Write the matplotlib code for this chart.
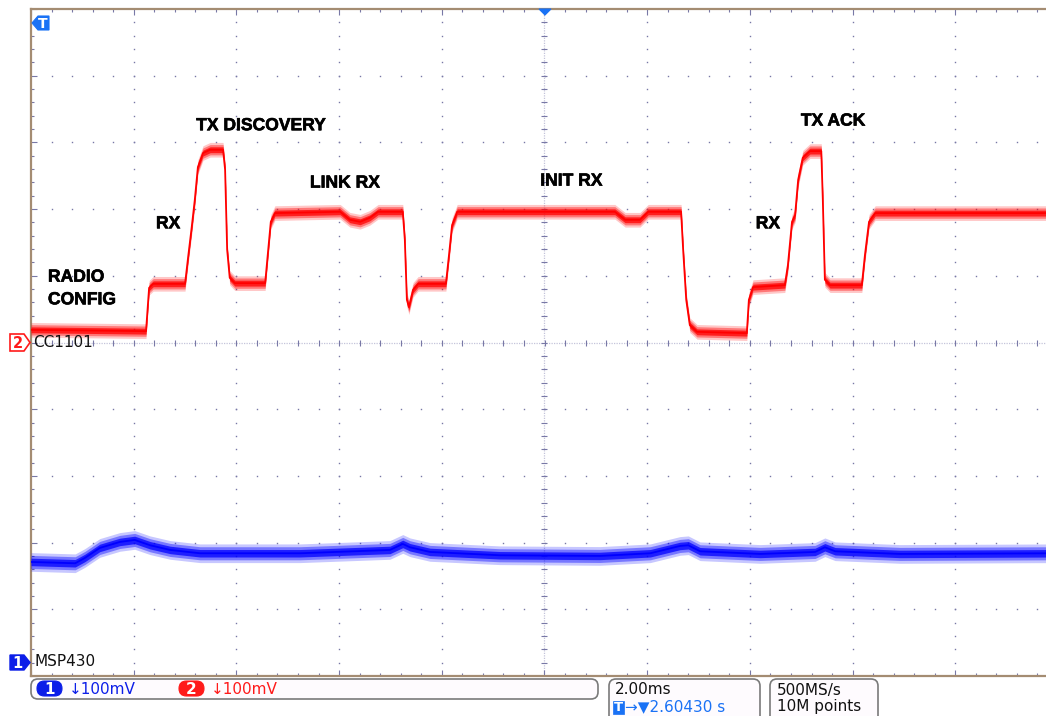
import numpy as np
import matplotlib
matplotlib.use("Agg")
import matplotlib.pyplot as plt
import matplotlib.patheffects as pe
from matplotlib.patches import Polygon, FancyBboxPatch

# ---- Channel 2: CC1101 supply (time in ms from trigger, level in mV) ----
cc1101_t_ms = [-10.0, -7.76, -7.70, -7.62, -7.00, -6.94, -6.87, -6.81, -6.75, -6.65,
               -6.51, -6.26, -6.22, -6.18, -6.13, -6.03, -5.44, -5.39, -5.33, -5.25,
               -3.98, -3.79, -3.59, -3.40, -3.24, -2.76, -2.72, -2.68, -2.64, -2.56,
               -2.46, -1.92, -1.86, -1.80, -1.70, 1.37, 1.57, 1.86, 2.02, 2.66,
               2.70, 2.76, 2.83, 2.97, 3.94, 3.98, 4.06, 4.68, 4.74, 4.82,
               4.88, 4.94, 5.03, 5.17, 5.39, 5.42, 5.46, 5.56, 6.18, 6.24,
               6.32, 6.44, 10.0]
cc1101_mv = [19, 17, 82, 88, 88, 128, 173, 214, 263, 284,
             289, 289, 259, 139, 97, 89, 89, 131, 181, 194,
             196, 184, 181, 187, 196, 196, 154, 64, 53, 79,
             88, 88, 131, 176, 196, 196, 184, 184, 196, 196,
             139, 64, 26, 16, 14, 64, 83, 86, 116, 181,
             191, 244, 277, 287, 287, 214, 94, 86, 86, 131,
             181, 194, 194]

# ---- Channel 1: MSP430 supply ----
msp430_t_ms = [-10.0, -9.14, -8.95, -8.66, -8.27, -7.98, -7.68, -7.29, -6.71, -4.76,
               -3.01, -2.76, -2.62, -2.23, -0.87, 1.08, 2.06, 2.64, 2.80, 3.03,
               4.20, 5.27, 5.46, 5.66, 6.92, 10.0]
msp430_mv = [150, 148, 156, 171, 180, 183, 175, 168, 163, 163,
             168, 177, 172, 165, 160, 159, 163, 174, 175, 166,
             162, 165, 172, 166, 162, 163]

# ---- Phase annotations (time in ms, vertical position in divisions) ----
phase_text = ["RADIO", "CONFIG", "RX", "TX DISCOVERY", "LINK RX", "INIT RX", "RX", "TX ACK"]
phase_t_ms = [-9.67, -9.67, -7.33, -5.52, -3.89, 0.52, 4.35, 5.62]
phase_div = [5.98, 5.64, 6.78, 8.25, 7.39, 7.42, 6.78, 8.32]
phase_ha = ["left", "left", "center", "center", "center", "center", "center", "center"]

# ---- Scope settings ----
MS_PER_DIV = 2.0
MV_PER_DIV = 100.0
CH2_OFFSET_DIV = 5.0
CH1_OFFSET_DIV = 0.21

W, H = 1046, 716
fig = plt.figure(figsize=(W / 100, H / 100), dpi=100, facecolor="white")

# screen area spans 10 x 10 divisions; right edge falls just past the window
L, T, R, B = 31, 9, 1058, 676
ax = fig.add_axes([L / W, (H - B) / H, (R - L) / W, (B - T) / H])
ax.set_xlim(-5 * MS_PER_DIV, 5 * MS_PER_DIV)
ax.set_ylim(0, 10)
ax.set_facecolor("white")

grid_col = "#7878a6"
spine_col = "#a48c72"

# dotted graticule
for xm in np.arange(-8, 9, 2):
    if xm == 0:
        continue
    ys = np.arange(0.2, 10, 0.2)
    ax.plot(np.full_like(ys, xm), ys, ls="none", marker="s", ms=1.0,
            mew=0, color=grid_col, zorder=1)
for ym in range(1, 10):
    if ym == 5:
        continue
    xs = np.arange(-9.6, 9.7, 0.4)
    ax.plot(xs, np.full_like(xs, ym), ls="none", marker="s", ms=1.0,
            mew=0, color=grid_col, zorder=1)

# centre cross with sub-division ticks
ax.axvline(0, color="#c4c4da", lw=0.9, ls=(0, (1, 1)), zorder=1)
ax.axhline(5, color="#c4c4da", lw=0.9, ls=(0, (1, 1)), zorder=1)
yc = np.arange(0.2, 10, 0.2)
ax.plot(np.zeros_like(yc), yc, ls="none", marker="_", ms=5, mew=0.8,
        color=grid_col, zorder=1)
xc = np.arange(-9.6, 9.7, 0.4)
ax.plot(xc, np.full_like(xc, 5.0), ls="none", marker="|", ms=5, mew=0.8,
        color=grid_col, zorder=1)

# border ticks
ax.set_xticks(np.arange(-10, 11, 2))
ax.set_xticks(np.arange(-10, 10.01, 0.4), minor=True)
ax.set_yticks(np.arange(0, 11, 1))
ax.set_yticks(np.arange(0, 10.01, 0.2), minor=True)
ax.tick_params(which="both", direction="in", top=True, bottom=True, left=True,
               right=False, labelbottom=False, labelleft=False, color=grid_col,
               width=0.8)
ax.tick_params(which="major", length=4)
ax.tick_params(which="minor", length=2.5)
for side in ("left", "top", "bottom"):
    ax.spines[side].set_color(spine_col)
    ax.spines[side].set_linewidth(1.6)
ax.spines["right"].set_visible(False)


def draw_trace(t_ms, mv, offset_div, color, spread, core_lw):
    t = np.asarray(t_ms, dtype=float)
    y = offset_div + np.asarray(mv, dtype=float) / MV_PER_DIV
    for w, a in ((spread, 0.22), (spread * 0.7, 0.4), (spread * 0.4, 0.75)):
        ax.fill_between(t, y - w, y + w, color=color, alpha=a, lw=0, zorder=3)
    ax.plot(t, y, color=color, lw=core_lw, zorder=4)


draw_trace(cc1101_t_ms, cc1101_mv, CH2_OFFSET_DIV, "#ff0000", 0.11, 1.3)
draw_trace(msp430_t_ms, msp430_mv, CH1_OFFSET_DIV, "#0000ff", 0.14, 1.3)

for txt, tx, ty, ha in zip(phase_text, phase_t_ms, phase_div, phase_ha):
    ax.text(tx, ty, txt, ha=ha, va="center", fontsize=12.6, fontweight="bold",
            family="Liberation Sans", color="black", zorder=6,
            path_effects=[pe.withStroke(linewidth=0.45, foreground="black")])

# ---- screen decorations in pixel coordinates ----
ov = fig.add_axes([0, 0, 1, 1], zorder=5)
ov.set_xlim(0, W)
ov.set_ylim(H, 0)
ov.axis("off")
ov.patch.set_alpha(0)

ch1_col = "#0c1ee8"
ch2_col = "#ff1a1a"
trig_col = "#1a72f5"
txt_font = "DejaVu Sans"

# channel 2 ground marker
ov.add_patch(Polygon([(10, 334), (24, 334), (30, 342.5), (24, 351), (10, 351)],
                     closed=True, fc="white", ec=ch2_col, lw=1.2))
ov.text(17.5, 343, "2", color=ch2_col, fontsize=10.5, ha="center", va="center",
        family=txt_font, fontweight="bold")
ov.text(33, 342.5, "CC1101", color="#111111", fontsize=11, ha="left", va="center",
        family=txt_font)

# channel 1 ground marker
ov.add_patch(Polygon([(10, 655), (24, 655), (30, 662.5), (24, 670), (10, 670)],
                     closed=True, fc=ch1_col, ec=ch1_col, lw=1.0))
ov.text(17.5, 663, "1", color="white", fontsize=10.5, ha="center", va="center",
        family=txt_font, fontweight="bold")
ov.text(34, 662, "MSP430", color="#111111", fontsize=11, ha="left", va="center",
        family=txt_font)

# trigger level flag and trigger position marker
ov.add_patch(Polygon([(32, 23), (38, 16), (49, 16), (49, 30), (38, 30)],
                     closed=True, fc=trig_col, ec=trig_col, lw=0.8))
ov.text(43, 23.5, "T", color="white", fontsize=10, ha="center", va="center",
        family=txt_font, fontweight="bold")
ov.add_patch(Polygon([(539, 9), (551, 9), (545, 15)], closed=True,
                     fc=trig_col, ec=trig_col, lw=0.8))

# status bar
box_kw = dict(boxstyle="round,pad=0,rounding_size=7", ec="#7a7a7a",
              fc="#fefbfe", lw=1.2)
ov.add_patch(FancyBboxPatch((31, 679), 567, 20, **box_kw))
ov.add_patch(FancyBboxPatch((609, 679), 151, 45, **box_kw))
ov.add_patch(FancyBboxPatch((770, 679), 108, 45, **box_kw))

ov.add_patch(FancyBboxPatch((37, 681), 25, 15, boxstyle="round,pad=0,rounding_size=7.5",
                            fc=ch1_col, ec=ch1_col, lw=0.8))
ov.text(49.5, 689, "1", color="white", fontsize=11, ha="center", va="center",
        family=txt_font, fontweight="bold")
ov.text(69, 689.5, "↓100mV", color=ch1_col, fontsize=11, ha="left", va="center",
        family=txt_font)

ov.add_patch(FancyBboxPatch((179, 681), 25, 15, boxstyle="round,pad=0,rounding_size=7.5",
                            fc=ch2_col, ec=ch2_col, lw=0.8))
ov.text(191.5, 689, "2", color="white", fontsize=11, ha="center", va="center",
        family=txt_font, fontweight="bold")
ov.text(211, 689.5, "↓100mV", color=ch2_col, fontsize=11, ha="left", va="center",
        family=txt_font)

ov.text(615, 690, "2.00ms", color="#111111", fontsize=11, ha="left", va="center",
        family=txt_font)
ov.add_patch(Polygon([(613, 701), (624, 701), (624, 714), (613, 714)], closed=True,
                     fc=trig_col, ec=trig_col, lw=0.5))
ov.text(618.5, 707.5, "T", color="white", fontsize=9.5, ha="center", va="center",
        family=txt_font, fontweight="bold")
ov.text(625, 707, "→▼2.60430 s", color=trig_col, fontsize=11, ha="left", va="center",
        family=txt_font)

ov.text(777, 690, "500MS/s", color="#111111", fontsize=11, ha="left", va="center",
        family=txt_font)
ov.text(777, 707, "10M points", color="#111111", fontsize=11, ha="left", va="center",
        family=txt_font)

fig.savefig("out.png", dpi=100, facecolor="white")
